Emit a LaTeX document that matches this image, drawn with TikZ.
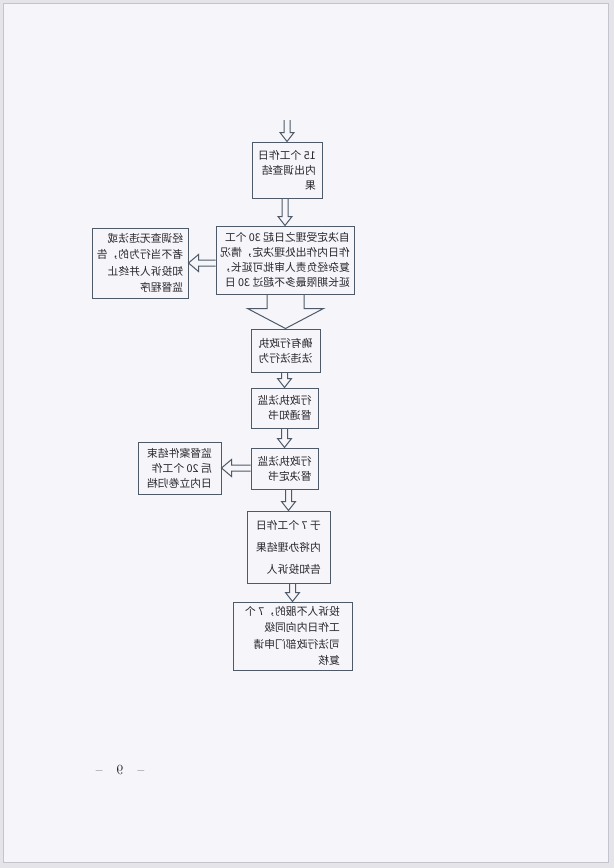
\documentclass[tikz,border=0pt]{standalone}
\usepackage{fontspec}
\newfontfamily\cjk{Noto Sans CJK SC}
\usetikzlibrary{calc}

\definecolor{pageclr}{RGB}{245,245,250}
\definecolor{edgeclr}{RGB}{196,196,206}
\definecolor{lineclr}{RGB}{78,90,104}
\definecolor{txtclr}{RGB}{38,38,44}

\tikzset{
  box/.style={draw=lineclr, line width=1pt, xscale=-1, inner sep=0pt, align=left,
    text=txtclr, font=\cjk\fontsize{10.8}{15}\selectfont},
  arrowline/.style={draw=lineclr, line width=1pt, line join=miter},
  % hollow block arrows: shaft half width, head half width, head length
  hollow down/.style n args={3}{to path={
    ($(\tikztostart -| \tikztotarget)+(-#1,0)$) -- ($(\tikztotarget)+(-#1,-#3)$)
    -- ($(\tikztotarget)+(-#2,-#3)$) -- (\tikztotarget) -- ($(\tikztotarget)+(#2,-#3)$)
    -- ($(\tikztotarget)+(#1,-#3)$) -- ($(\tikztostart -| \tikztotarget)+(#1,0)$)}},
  hollow left/.style n args={3}{to path={
    ($(\tikztostart |- \tikztotarget)+(0,-#1)$) -- ($(\tikztotarget)+(#3,-#1)$)
    -- ($(\tikztotarget)+(#3,-#2)$) -- (\tikztotarget) -- ($(\tikztotarget)+(#3,#2)$)
    -- ($(\tikztotarget)+(#3,#1)$) -- ($(\tikztostart |- \tikztotarget)+(0,#1)$)}},
}

\begin{document}
\begin{tikzpicture}[x=1pt, y=-1pt]
\useasboundingbox (0,0) rectangle (614,868);
\fill[edgeclr!45] (0,0) rectangle (614,868);
\draw[edgeclr, fill=pageclr] (3,3) rectangle (608,862);

% main column
\node(b1) at (287,170) [box, minimum width=70pt, minimum height=56pt] {15 个工作日\\内出调查结\\果};
\node(b2) at (285,260) [box, minimum width=138pt, minimum height=68pt] {自决定受理之日起 30 个工\\作日内作出处理决定，情况\\复杂经负责人审批可延长，\\延长期限最多不超过 30 日};
\node(b3) at (285.5,350.5) [box, minimum width=69pt, minimum height=43pt] {确有行政执\\法违法行为};
\node(b4) at (284.5,408) [box, minimum width=67pt, minimum height=40pt] {行政执法监\\督通知书};
\node(b5) at (284.5,468.5) [box, minimum width=67pt, minimum height=41pt] {行政执法监\\督决定书};
\node(b6) at (288.5,547) [box, minimum width=83pt, minimum height=72pt, font=\cjk\fontsize{10.8}{22}\selectfont] {于 7 个工作日\\内将办理结果\\告知投诉人};
\node(b7) at (292.5,636) [box, minimum width=119pt, minimum height=68pt, font=\cjk\fontsize{10.8}{16.5}\selectfont] {投诉人不服的，7 个\\工作日内向同级\\司法行政部门申请\\复核};

% side boxes
\node(n1) at (140,263) [box, minimum width=96pt, minimum height=70pt, font=\cjk\fontsize{10.8}{16.5}\selectfont] {经调查无违法或\\者不当行为的，告\\知投诉人并终止\\监督程序};
\node(n2) at (179.5,468) [box, minimum width=83pt, minimum height=52pt] {监督案件结束\\后 20 个工作\\日内立卷归档};

\coordinate(top) at (287,120);

\draw[arrowline, hollow down={3}{7}{9}] (top) to (b1.north);
\draw[arrowline, hollow down={3}{7}{9}] (b1.south) to (b2.north);
\draw[arrowline, hollow down={18.5}{38}{20}] (b2.south) to (b3.north);
\draw[arrowline, hollow down={3}{7}{9}] (b3.south) to (b4.north);
\draw[arrowline, hollow down={3}{7}{9}] (b4.south) to (b5.north);
\draw[arrowline, hollow down={3}{7}{9}] (b5.south) to (b6.north);
\draw[arrowline, hollow down={3}{7}{9}] (b6.south) to (b7.north);

% node anchors are mirrored (xscale=-1): east is on the left
\draw[arrowline, hollow left={3}{8.5}{10}] (b2.east) to (n1.west);
\draw[arrowline, hollow left={3}{8.5}{10}] (b5.east) to (n2.west);

\node(pg) at (120,770) [xscale=-1, text=txtclr, font=\fontsize{14}{16}\selectfont] {--\quad 9\quad --};
\end{tikzpicture}
\end{document}
